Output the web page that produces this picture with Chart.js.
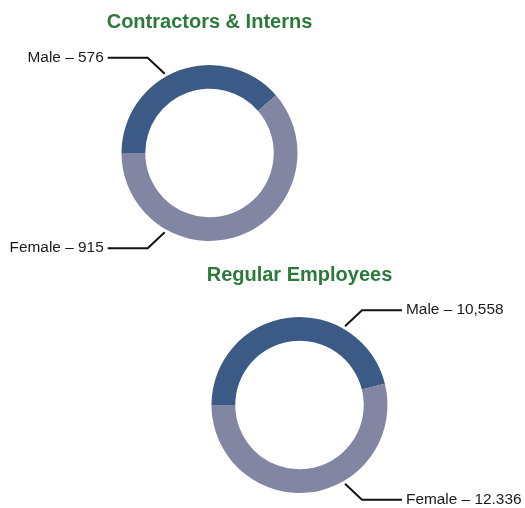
<!DOCTYPE html>
<html>
<head>
<meta charset="utf-8">
<script src="https://cdn.jsdelivr.net/npm/chart.js@4/dist/chart.umd.min.js"></script>
<style>
  html, body { margin: 0; padding: 0; background: #fff; }
  #wrap { position: relative; width: 525px; height: 508px; }
  .box { position: absolute; left: 0; width: 525px; }
</style>
</head>
<body>
<div id="wrap">
  <div class="box" style="top:0;height:260px"><canvas id="contractorsChart"></canvas></div>
  <div class="box" style="top:252px;height:256px"><canvas id="regularChart"></canvas></div>
</div>
<script>
const genders = ['Male', 'Female'];

const contractorsTitle = 'Contractors & Interns';
const contractorsValues = [576, 915];
const contractorsValueText = ['576', '915'];

const regularTitle = 'Regular Employees';
const regularValues = [10558, 12336];
const regularValueText = ['10,558', '12.336'];

const COLORS = {
    male:   '#3b5a86',
    female: '#8286a2',
    title:  '#2b7a3b',
    text:   '#1a1a1a'
};

const LABEL_FONT = '15.4px "Liberation Sans", Arial, sans-serif';
const TITLE_FONT = 'bold 20px "Liberation Sans", Arial, sans-serif';

// title above the ring plus the leader lines and "Male – 576" labels
// (built-in title squeezes the text to the chart area width, so drawn here)
const calloutPlugin = {
    id: 'callouts',
    afterDraw(chart, args, opts) {
        const meta = chart.getDatasetMeta(0);
        const ctx = chart.ctx;
        const first = meta.data[0];
        ctx.save();
        ctx.fillStyle = COLORS.title;
        ctx.font = TITLE_FONT;
        ctx.textAlign = 'center';
        ctx.textBaseline = 'middle';
        ctx.fillText(opts.title, first.x, opts.titleY);

        ctx.strokeStyle = '#111';
        ctx.lineWidth = 2;
        ctx.fillStyle = COLORS.text;
        ctx.font = LABEL_FONT;
        opts.items.forEach(item => {
            const arc = meta.data[item.index];
            const r = arc.outerRadius + 3;
            const a = item.angle * Math.PI / 180;
            const ax = arc.x + r * Math.sin(a);
            const ay = arc.y - r * Math.cos(a);
            const dir = item.side === 'left' ? -1 : 1;
            const vy = ay < arc.y ? -1 : 1;
            const ex = ax + dir * 17;
            const ey = ay + vy * 16;
            const hx = ex + dir * 40;
            ctx.beginPath();
            ctx.moveTo(ax, ay);
            ctx.lineTo(ex, ey);
            ctx.lineTo(hx, ey);
            ctx.stroke();
            ctx.textAlign = dir < 0 ? 'right' : 'left';
            const txt = chart.data.labels[item.index] + ' \u2013 ' + opts.valueText[item.index];
            ctx.fillText(txt, hx + dir * 4, ey);
        });
        ctx.restore();
    }
};

function makeDonut(id, title, titleY, values, valueText, padding, items) {
    return new Chart(document.getElementById(id), {
        type: 'doughnut',
        data: {
            labels: genders,
            datasets: [{
                data: values,
                backgroundColor: [COLORS.male, COLORS.female],
                borderWidth: 0,
                hoverOffset: 0
            }]
        },
        options: {
            responsive: true,
            maintainAspectRatio: false,
            animation: false,
            rotation: -90,
            cutout: '73%',
            layout: { padding: padding },
            plugins: {
                legend: { display: false },
                tooltip: { enabled: false },
                title: { display: false },
                callouts: { title: title, titleY: titleY, valueText: valueText, items: items }
            }
        },
        plugins: [calloutPlugin]
    });
}

makeDonut('contractorsChart', contractorsTitle, 22, contractorsValues, contractorsValueText,
    { top: 65, left: 121.5, right: 227.5, bottom: 19 },
    [{ index: 0, angle: -29.5, side: 'left' }, { index: 1, angle: 209.5, side: 'left' }]);

makeDonut('regularChart', regularTitle, 23.5, regularValues, regularValueText,
    { top: 65, left: 211.5, right: 137.5, bottom: 15 },
    [{ index: 0, angle: 30, side: 'right' }, { index: 1, angle: 150, side: 'right' }]);
</script>
</body>
</html>
